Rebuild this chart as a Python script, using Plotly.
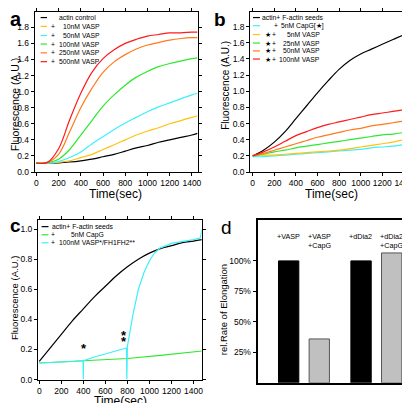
import plotly.graph_objects as go

W, H = 410, 403
def px(x): return x / W
def py(y): return 1 - y / H

# ---------------- Panel a data ----------------
time_a = [0, 100, 200, 300, 400, 500, 600, 700, 800, 900, 1000, 1100, 1200, 1300, 1400, 1450]
a_control = [0.11, 0.11, 0.115, 0.125, 0.14, 0.16, 0.19, 0.22, 0.26, 0.30, 0.33, 0.37, 0.40, 0.43, 0.46, 0.48]
a_10nM = [0.11, 0.11, 0.12, 0.14, 0.18, 0.22, 0.28, 0.34, 0.40, 0.46, 0.51, 0.55, 0.60, 0.64, 0.68, 0.70]
a_50nM = [0.11, 0.11, 0.13, 0.18, 0.25, 0.35, 0.44, 0.53, 0.61, 0.68, 0.75, 0.81, 0.86, 0.91, 0.96, 0.98]
a_100nM = [0.11, 0.12, 0.16, 0.28, 0.46, 0.64, 0.82, 0.96, 1.08, 1.18, 1.25, 1.31, 1.35, 1.38, 1.41, 1.42]
a_250nM = [0.11, 0.12, 0.22, 0.50, 0.80, 1.04, 1.24, 1.37, 1.46, 1.53, 1.58, 1.61, 1.64, 1.66, 1.67, 1.67]
a_500nM = [0.11, 0.12, 0.29, 0.65, 0.98, 1.24, 1.41, 1.52, 1.60, 1.65, 1.69, 1.71, 1.73, 1.73, 1.74, 1.74]
a_names = ["actin control", "+   10nM VASP", "+   50nM VASP", "+ 100nM VASP", "+ 250nM VASP", "+ 500nM VASP"]

# ---------------- Panel b data ----------------
time_b = [0, 100, 200, 300, 400, 500, 600, 700, 800, 900, 1000, 1100, 1200, 1300, 1400, 1480]
b_seeds = [0.20, 0.27, 0.37, 0.50, 0.66, 0.82, 0.98, 1.13, 1.27, 1.38, 1.46, 1.52, 1.58, 1.64, 1.70, 1.77]
b_capg = [0.19, 0.19, 0.20, 0.21, 0.22, 0.23, 0.24, 0.25, 0.26, 0.27, 0.28, 0.30, 0.31, 0.32, 0.34, 0.35]
b_5nM = [0.21, 0.21, 0.21, 0.22, 0.23, 0.24, 0.25, 0.26, 0.27, 0.29, 0.31, 0.33, 0.35, 0.37, 0.40, 0.43]
b_25nM = [0.20, 0.22, 0.25, 0.27, 0.30, 0.32, 0.34, 0.36, 0.38, 0.40, 0.42, 0.44, 0.46, 0.47, 0.49, 0.51]
b_50nM = [0.20, 0.23, 0.27, 0.31, 0.35, 0.39, 0.43, 0.46, 0.49, 0.52, 0.54, 0.57, 0.59, 0.61, 0.63, 0.65]
b_100nM = [0.20, 0.25, 0.31, 0.38, 0.45, 0.50, 0.55, 0.59, 0.62, 0.65, 0.68, 0.71, 0.73, 0.75, 0.77, 0.79]

# ---------------- Panel c data ----------------
time_c_black = [0, 100, 200, 300, 400, 500, 600, 700, 800, 900, 1000, 1100, 1200, 1300, 1400, 1480]
c_seeds = [0.12, 0.21, 0.30, 0.39, 0.47, 0.55, 0.62, 0.69, 0.75, 0.80, 0.84, 0.87, 0.89, 0.91, 0.92, 0.93]
time_c_green = [0, 300, 500, 800, 1100, 1400, 1480]
c_capg = [0.11, 0.12, 0.13, 0.14, 0.16, 0.18, 0.19]
time_c_cyan = [0, 100, 200, 300, 398, 400, 402, 500, 600, 700, 792, 795, 800, 850, 900, 950, 1000, 1050, 1100, 1200, 1300, 1400, 1460, 1480]
c_vasp = [0.11, 0.112, 0.115, 0.12, 0.125, 0.0, 0.125, 0.15, 0.17, 0.19, 0.21, 0.0, 0.22, 0.43, 0.60, 0.71, 0.79, 0.845, 0.875, 0.905, 0.915, 0.93, 0.94, 1.0]

# ---------------- Panel d data ----------------
d_groups = ["VASP", "dDia2"]
d_control = [100, 100]
d_capg = [36, 106.5]
d_labels = ["+VASP", "+VASP<br>+CapG", "+dDia2", "+dDia2<br>+CapG"]

C_BLACK = "#000000"
C_YEL = "#FFC20E"
C_CYAN = "#3CF0FA"
C_GREEN = "#2EE82E"
C_ORANGE = "#FF7A1A"
C_RED = "#FF1A1A"
LW = 1.2

fig = go.Figure()

for y, c in zip([a_control, a_10nM, a_50nM, a_100nM, a_250nM, a_500nM],
                [C_BLACK, C_YEL, C_CYAN, C_GREEN, C_ORANGE, C_RED]):
    fig.add_trace(go.Scatter(x=time_a, y=y, mode="lines", line=dict(color=c, width=LW, shape="spline"),
                             xaxis="x", yaxis="y", showlegend=False))

for y, c in zip([b_seeds, b_capg, b_5nM, b_25nM, b_50nM, b_100nM],
                [C_BLACK, C_CYAN, C_YEL, C_GREEN, C_ORANGE, C_RED]):
    fig.add_trace(go.Scatter(x=time_b, y=y, mode="lines", line=dict(color=c, width=LW, shape="spline"),
                             xaxis="x2", yaxis="y2", showlegend=False))

fig.add_trace(go.Scatter(x=time_c_black, y=c_seeds, mode="lines", line=dict(color=C_BLACK, width=LW, shape="spline"),
                         xaxis="x3", yaxis="y3", showlegend=False))
fig.add_trace(go.Scatter(x=time_c_green, y=c_capg, mode="lines", line=dict(color=C_GREEN, width=LW),
                         xaxis="x3", yaxis="y3", showlegend=False))
fig.add_trace(go.Scatter(x=time_c_cyan, y=c_vasp, mode="lines", line=dict(color=C_CYAN, width=LW),
                         xaxis="x3", yaxis="y3", showlegend=False))

fig.add_trace(go.Bar(x=d_groups, y=d_control, marker=dict(color="#000000", line=dict(color="#000000", width=1)),
                     xaxis="x4", yaxis="y4", showlegend=False))
fig.add_trace(go.Bar(x=d_groups, y=d_capg, marker=dict(color="#C0C0C0", line=dict(color="#555555", width=1)),
                     xaxis="x4", yaxis="y4", showlegend=False))

FONT = "Liberation Sans, Arial, sans-serif"
tickfont = dict(family=FONT, size=8.5, color="black")

def xax(domain, rng, anchor):
    return dict(domain=domain, range=rng, anchor=anchor, dtick=200, tick0=0, showline=True, linecolor="black",
                linewidth=1, mirror="ticks", ticks="outside", ticklen=3, tickwidth=1, tickcolor="black",
                showgrid=False, zeroline=False, tickfont=tickfont, tickangle=0)

def yax(domain, rng, anchor):
    return dict(domain=domain, range=rng, anchor=anchor, dtick=0.2, tick0=0, tickformat=".1f", showline=True,
                linecolor="black", linewidth=1, mirror="ticks", ticks="outside", ticklen=3, tickwidth=1,
                tickcolor="black", showgrid=False, zeroline=False, tickfont=tickfont)

layout = dict(
    width=W, height=H, autosize=False, margin=dict(l=0, r=0, t=0, b=0),
    paper_bgcolor="white", plot_bgcolor="white", font=dict(family=FONT, color="black"),
    xaxis=xax([px(26), px(191)], [-15, 1452], "y"),
    yaxis=yax([py(164.3), py(1)], [0, 1.99], "x"),
    xaxis2=xax([px(244.3), px(409)], [-22, 1485], "y2"),
    yaxis2=yax([py(164.3), py(1)], [0, 1.98], "x2"),
    xaxis3=xax([px(29.3), px(195)], [-12, 1474], "y3"),
    yaxis3=yax([py(376), py(213.3)], [0, 1.06], "x3"),
    xaxis4=dict(domain=[px(251.7), px(409)], range=[-0.64, 1.506], anchor="y4", showticklabels=False,
                ticks="", showline=True, linecolor="black", linewidth=2, mirror=True, showgrid=False,
                zeroline=False),
    yaxis4=dict(domain=[py(379.4), py(213)], range=[0, 133.7], anchor="x4", tickvals=[25, 50, 75, 100],
                ticktext=["25%", "50%", "75%", "100%"], ticks="outside", ticklen=3, tickcolor="black",
                showline=True, linecolor="black", linewidth=2, mirror=True, showgrid=False, zeroline=False,
                tickfont=tickfont),
    barmode="group", bargap=0.154, bargroupgap=0.336,
)
fig.update_layout(**layout)

ann = []
shapes = []

def text(x, y, t, size=8, xanchor="left", yanchor="middle", bold=False, angle=0):
    ann.append(dict(x=px(x), y=py(y), xref="paper", yref="paper", text=("<b>%s</b>" % t) if bold else t,
                    showarrow=False, xanchor=xanchor, yanchor=yanchor, textangle=angle, borderpad=0,
                    font=dict(family=FONT, size=size, color="black")))

def swatch(x0, x1, y, c):
    shapes.append(dict(type="line", xref="paper", yref="paper", x0=px(x0), x1=px(x1), y0=py(y), y1=py(y),
                       line=dict(color=c, width=1.2)))

LF = 6.8  # legend font size

# panel labels
text(0, 8, "a", size=20, bold=True)
text(207, 9, "b", size=19, bold=True)
text(0, 219, "c", size=19, bold=True)
text(214, 221, "d", size=19)

# axis titles
for (x, y) in [(107.5, 187), (326.7, 187), (112.7, 398)]:
    text(x, y, "Time(sec)", size=12, xanchor="center")
text(6, 95, "Fluorescence (A.U.)", size=10.5, xanchor="center", angle=-90)
text(219, 76, "Fluorescence (A.U.)", size=10, xanchor="center", angle=-90)
text(5, 293, "Fluorescence (A.U.)", size=9.5, xanchor="center", angle=-90)
text(218, 305, "rel.Rate of Elongation", size=9.5, xanchor="center", angle=-90)

# legend a
rows_a = [6.7, 15.7, 25, 33.7, 42.7, 51.7]
cols_a = [C_BLACK, C_YEL, C_CYAN, C_GREEN, C_ORANGE, C_RED]
for i, (r, c) in enumerate(zip(rows_a, cols_a)):
    swatch(32, 38.5, r, c)
    if i == 0:
        text(50, r, a_names[0], size=LF)
    else:
        text(45, r, "+", size=LF, xanchor="center")
        text(93.5, r, a_names[i][1:].strip(), size=LF, xanchor="right")

# legend b
rows_b = [6.7, 15, 24, 32.7, 40.7, 49]
cols_b = [C_BLACK, C_CYAN, C_YEL, C_GREEN, C_ORANGE, C_RED]
names_b = ["actin+ F-actin seeds", "5nM CapG[\u2605]", "5nM VASP", "25nM VASP", "50nM VASP", "100nM VASP"]
for i, (r, c) in enumerate(zip(rows_b, cols_b)):
    swatch(247, 254, r, c)
    if i == 0:
        text(255, r, names_b[0], size=LF)
    elif i == 1:
        text(270, r, "+", size=LF, xanchor="center")
        text(274, r, names_b[1], size=LF)
    else:
        text(262, r, "\u2605", size=7, xanchor="center")
        text(268, r, "+", size=LF, xanchor="center")
        text(316, r, names_b[i], size=LF, xanchor="right")

# legend c
rows_c = [220, 228.3, 236.5]
swatch(33, 40, rows_c[0], C_BLACK)
text(43, rows_c[0], "actin+ F-actin seeds", size=LF)
swatch(33, 40, rows_c[1], C_GREEN)
text(45, rows_c[1], "+", size=LF, xanchor="center")
text(61.5, rows_c[1], "5nM CapG", size=LF)
swatch(33, 40, rows_c[2], C_CYAN)
text(45, rows_c[2], "+", size=LF, xanchor="center")
text(50, rows_c[2], "100nM VASP*/FH1FH2**", size=LF)

# asterisks in panel c
for (xx, yy) in [(402, 0.205), (768, 0.295), (768, 0.255)]:
    ann.append(dict(x=xx, y=yy, xref="x3", yref="y3", text="<b>*</b>", showarrow=False,
                    font=dict(family=FONT, size=13, color="black")))

# bar labels panel d
for i, lab in enumerate(d_labels):
    grp = d_groups[i // 2]
    shift = -15.5 if i % 2 == 0 else 15.5
    ann.append(dict(x=grp, y=py(223), xref="x4", yref="paper", xshift=shift, text=lab, showarrow=False,
                    xanchor="center", yanchor="top", align="left",
                    font=dict(family=FONT, size=7.2, color="black")))

fig.update_layout(annotations=ann, shapes=shapes)
fig.write_html("out.html")
